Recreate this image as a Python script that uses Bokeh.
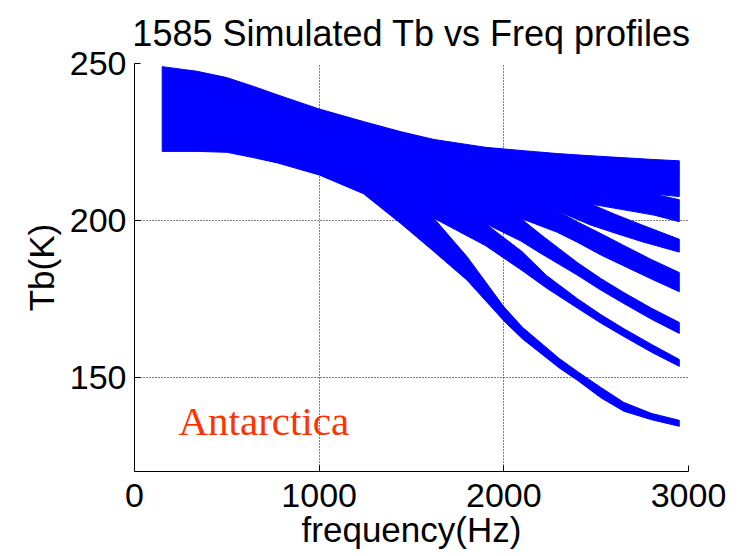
from bokeh.plotting import figure
from bokeh.models import FixedTicker, Label, Range1d
from bokeh.embed import file_html
from bokeh.resources import INLINE

# ---- data (frequency in Hz, Tb in K) ----
# band 7: lowest branch (also carries the whole merged bundle at low frequency)
freq_b7 = [150, 340, 500, 645, 775, 1000, 1240, 1440, 1621, 1621, 1800, 2000, 2100, 2300, 2400, 2525, 2650, 2800, 2950]
upper_b7 = [249.0, 247.5, 245.5, 242.7, 240.0, 235.5, 231.5, 228.3, 225.8, 200.7, 188.5, 172.5, 166.0, 156.0, 151.8, 146.8, 142.0, 138.5, 136.3]
lower_b7 = [222.0, 222.0, 221.7, 220.0, 218.3, 214.5, 208.5, 199.1, 190.1, 190.1, 181.0, 168.0, 162.3, 153.0, 149.0, 143.5, 139.2, 136.5, 134.4]

freq_b6 = [1621, 1900, 1900, 2000, 2100, 2230, 2400, 2525, 2650, 2800, 2950]
upper_b6 = [225.8, 223.3, 199.0, 194.5, 190.0, 182.5, 175.0, 170.0, 165.5, 160.5, 155.7]
lower_b6 = [200.7, 192.0, 192.0, 188.0, 184.0, 178.5, 172.0, 167.3, 163.0, 158.0, 153.5]

freq_b5 = [1900, 2090, 2090, 2200, 2300, 2400, 2525, 2650, 2800, 2950]
upper_b5 = [223.3, 222.3, 200.7, 195.5, 191.0, 186.5, 181.5, 177.0, 172.0, 167.5]
lower_b5 = [199.0, 193.5, 193.5, 189.5, 186.0, 182.5, 177.8, 173.5, 168.5, 164.0]

freq_b4 = [2090, 2290, 2290, 2400, 2525, 2650, 2800, 2950]
upper_b4 = [222.3, 221.3, 203.0, 199.5, 195.8, 192.0, 187.5, 183.4]
lower_b4 = [200.7, 196.2, 196.2, 193.0, 189.0, 185.5, 181.3, 177.3]

freq_b3 = [2290, 2472, 2472, 2600, 2750, 2950]
upper_b3 = [221.3, 220.6, 205.2, 202.0, 198.5, 194.0]
lower_b3 = [203.0, 198.5, 198.5, 196.0, 193.2, 189.9]

freq_b2 = [2472, 2813, 2813, 2950]
upper_b2 = [220.6, 219.4, 208.4, 206.6]
lower_b2 = [205.2, 201.7, 201.7, 199.6]

freq_b1 = [2813, 2950]
upper_b1 = [219.4, 219.0]
lower_b1 = [208.4, 207.6]

x_ticks = [0, 1000, 2000, 3000]
y_ticks = [150, 200, 250]

title_text = "1585 Simulated Tb vs Freq profiles"
x_label = "frequency(Hz)"
y_label = "Tb(K)"
note_text = "Antarctica"
note_x = 238
note_y = 136.0

bands = [
    (freq_b7, upper_b7, lower_b7),
    (freq_b6, upper_b6, lower_b6),
    (freq_b5, upper_b5, lower_b5),
    (freq_b4, upper_b4, lower_b4),
    (freq_b3, upper_b3, lower_b3),
    (freq_b2, upper_b2, lower_b2),
    (freq_b1, upper_b1, lower_b1),
]

p = figure(width=742, height=556, output_backend="svg", toolbar_location=None,
           x_range=Range1d(0, 3000), y_range=Range1d(120, 250),
           min_border_left=134, min_border_right=54, min_border_top=62, min_border_bottom=85)

p.title.text = title_text
p.title.align = "center"
p.title.text_font = "Liberation Sans"
p.title.text_font_size = "36px"
p.title.text_font_style = "normal"
p.title.text_color = "black"
p.title.offset = 0
p.title.standoff = 20

for fr, up, lo in bands:
    xs = list(fr) + list(fr)[::-1]
    ys = list(up) + list(lo)[::-1]
    p.patch(xs, ys, fill_color="#0000FF", line_color="#0000FF", line_width=1)

p.add_layout(Label(x=note_x, y=note_y, text=note_text, text_font="Liberation Serif",
                   text_font_size="41px", text_color="#FF3300", text_baseline="alphabetic"))

p.outline_line_color = None
p.background_fill_color = "white"
p.border_fill_color = "white"

for ax in (p.xaxis[0], p.yaxis[0]):
    ax.axis_line_color = "black"
    ax.axis_line_width = 1
    ax.major_tick_line_color = "black"
    ax.major_tick_in = 6
    ax.major_tick_out = 0
    ax.minor_tick_line_color = None
    ax.major_label_text_font = "Liberation Sans"
    ax.major_label_text_font_size = "34px"
    ax.major_label_text_color = "black"
    ax.axis_label_text_font = "Liberation Sans"
    ax.axis_label_text_font_size = "35px"
    ax.axis_label_text_font_style = "normal"
    ax.axis_label_text_color = "black"

p.xaxis[0].ticker = FixedTicker(ticks=x_ticks)
p.yaxis[0].ticker = FixedTicker(ticks=y_ticks)
p.xaxis[0].axis_label = x_label
p.yaxis[0].axis_label = y_label
p.xaxis[0].major_label_standoff = 12
p.xaxis[0].axis_label_standoff = 0
p.yaxis[0].major_label_standoff = 8
p.yaxis[0].axis_label_standoff = 6

p.xgrid.ticker = FixedTicker(ticks=x_ticks)
p.ygrid.ticker = FixedTicker(ticks=y_ticks)
for g in (p.xgrid[0], p.ygrid[0]):
    g.grid_line_color = "black"
    g.grid_line_alpha = 1.0
    g.grid_line_width = 1
    g.grid_line_dash = "1 2"

open("out.html", "w").write(file_html(p, INLINE))
